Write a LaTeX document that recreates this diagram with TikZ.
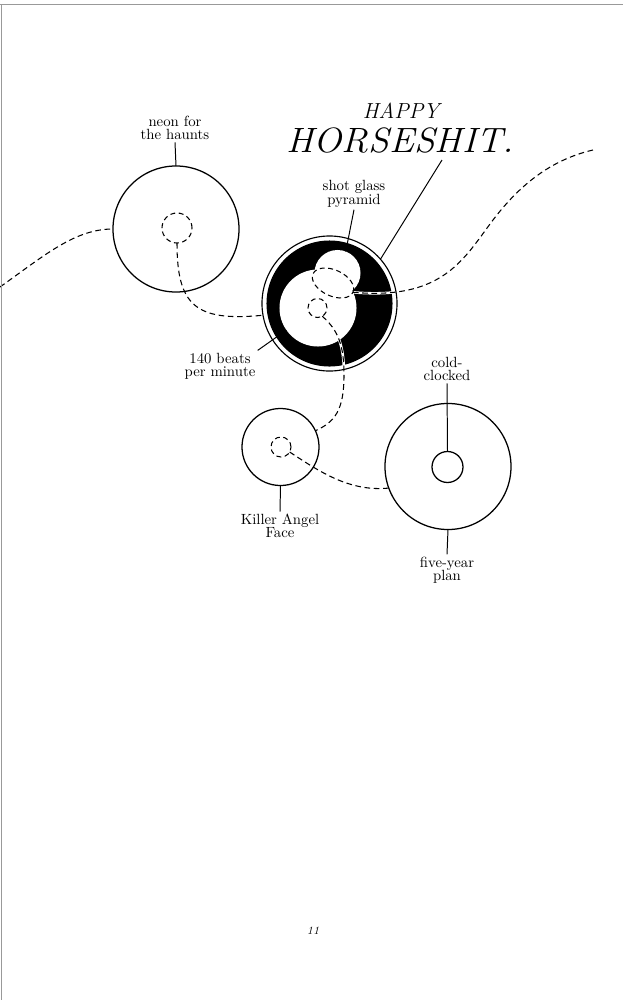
\documentclass[tikz,border=0pt]{standalone}
\usepackage{tikz}
\usetikzlibrary{shapes.geometric,backgrounds,calc}

\begin{document}
\begin{tikzpicture}[x=0.025cm, y=-0.025cm,
    ring/.style={circle, draw, line width=0.9pt, inner sep=0pt, outer sep=0pt},
    hole/.style={circle, fill=white, inner sep=0pt, outer sep=0pt},
    dashring/.style={circle, draw, line width=0.75pt, dash pattern=on 3.5pt off 2.5pt, inner sep=0pt, outer sep=0pt},
    link/.style={line width=0.75pt, dash pattern=on 4pt off 2.6pt, preaction={draw=white, solid, line width=1.8pt}},
    tick/.style={line width=0.7pt},
    lbl/.style={align=center, inner sep=1.5pt, font=\fontsize{10.5}{9.5}\selectfont}]
    \useasboundingbox (0,0) rectangle (629,1000);

    % page frame
    \draw[black!40, line width=0.7pt] (0,4) -- (623,4);
    \draw[black!40, line width=0.7pt] (1,4) -- (1,1000);

    % title
    \node[anchor=base, inner sep=0pt, font=\fontsize{15.5}{16}\selectfont\itshape] (happy) at (401,118) {HAPPY};
    \node[anchor=base, inner sep=0pt, xscale=1.07, font=\fontsize{25}{26}\selectfont\itshape] (horse) at (400,152) {HORSESHIT.};
    \coordinate (horsetip) at (442,160);

    % circles
    \node[ring, minimum size=3.15cm] (neon) at (176,229) {};
    \node[dashring, minimum size=0.75cm] (neonc) at (177,228) {};

    \node[circle, draw, line width=0.8pt, inner sep=0pt, outer sep=0pt, minimum size=3.375cm] (glass) at (329.5,303.5) {};
    \begin{pgfonlayer}{background}
        \node[circle, fill=black, inner sep=0pt, minimum size=3.15cm] (disk) at (329.5,303.5) {};
        \node[hole, minimum size=1.925cm] (beatw) at (318,308) {};
        \node[hole, minimum size=1.15cm] (shotw) at (337.5,273) {};
    \end{pgfonlayer}
    \node[dashring, minimum size=0.475cm] (beatc) at (317.5,308) {};
    \node[ellipse, draw, line width=0.75pt, dash pattern=on 3.5pt off 2.5pt, inner sep=0pt, outer sep=0pt,
          minimum width=1.1cm, minimum height=0.65cm, rotate=-25] (shotc) at (333,283) {};

    \node[ring, minimum size=1.925cm] (killer) at (280.5,447) {};
    \node[dashring, minimum size=0.5cm] (killc) at (281,447) {};

    \node[ring, minimum size=3.15cm] (plan) at (448,466.5) {};
    \node[ring, minimum size=0.775cm] (coldin) at (447.5,467) {};

    % labels
    \node[lbl] (neonlbl) at (175,128) {neon for\\the haunts};
    \node[lbl] (shotlbl) at (354,194) {shot glass\\pyramid};
    \node[lbl] (beatslbl) at (220,366) {140 beats\\per minute};
    \node[lbl] (killlbl) at (280,526) {Killer Angel\\Face};
    \node[lbl] (coldlbl) at (447,369) {cold-\\clocked};
    \node[lbl] (planlbl) at (447,570) {five-year\\plan};

    \draw[tick] (neonlbl.south) -- (neon.north);
    \draw[tick] (shotlbl.south) -- (shotw.69);
    \draw[tick] (horsetip) -- (glass.41);
    \draw[tick] (beatslbl.north east) -- (beatw.215);
    \draw[tick] (killer.south) -- (killlbl.north);
    \draw[tick] (coldlbl.south) -- (coldin.north);
    \draw[tick] (plan.south) -- (planlbl.north);

    % dashed threads
    \coordinate (edgeL) at (0,287);
    \coordinate (edgeR) at (593,150);
    \begin{pgfonlayer}{background}
        \draw[link] (edgeL) .. controls (45,255) and (75,229) .. (neon.west);
        \draw[link] (neonc.south) .. controls (177,305) and (195,322) .. (glass.190);
        \draw[link] (shotc.east) .. controls (440,300) and (462,262) .. (490,224)
            .. controls (518,186) and (550,160) .. (edgeR);
        \draw[link] (beatc.-60) .. controls (338,330) and (344,345) .. (344,375)
            .. controls (344,410) and (335,422) .. (killer.25);
        \draw[link] (killc.-30) .. controls (320,472) and (350,492) .. (plan.200);
    \end{pgfonlayer}

    % folio
    \node[font=\fontsize{8}{9}\selectfont\itshape] (folio) at (313,931) {11};
\end{tikzpicture}
\end{document}
